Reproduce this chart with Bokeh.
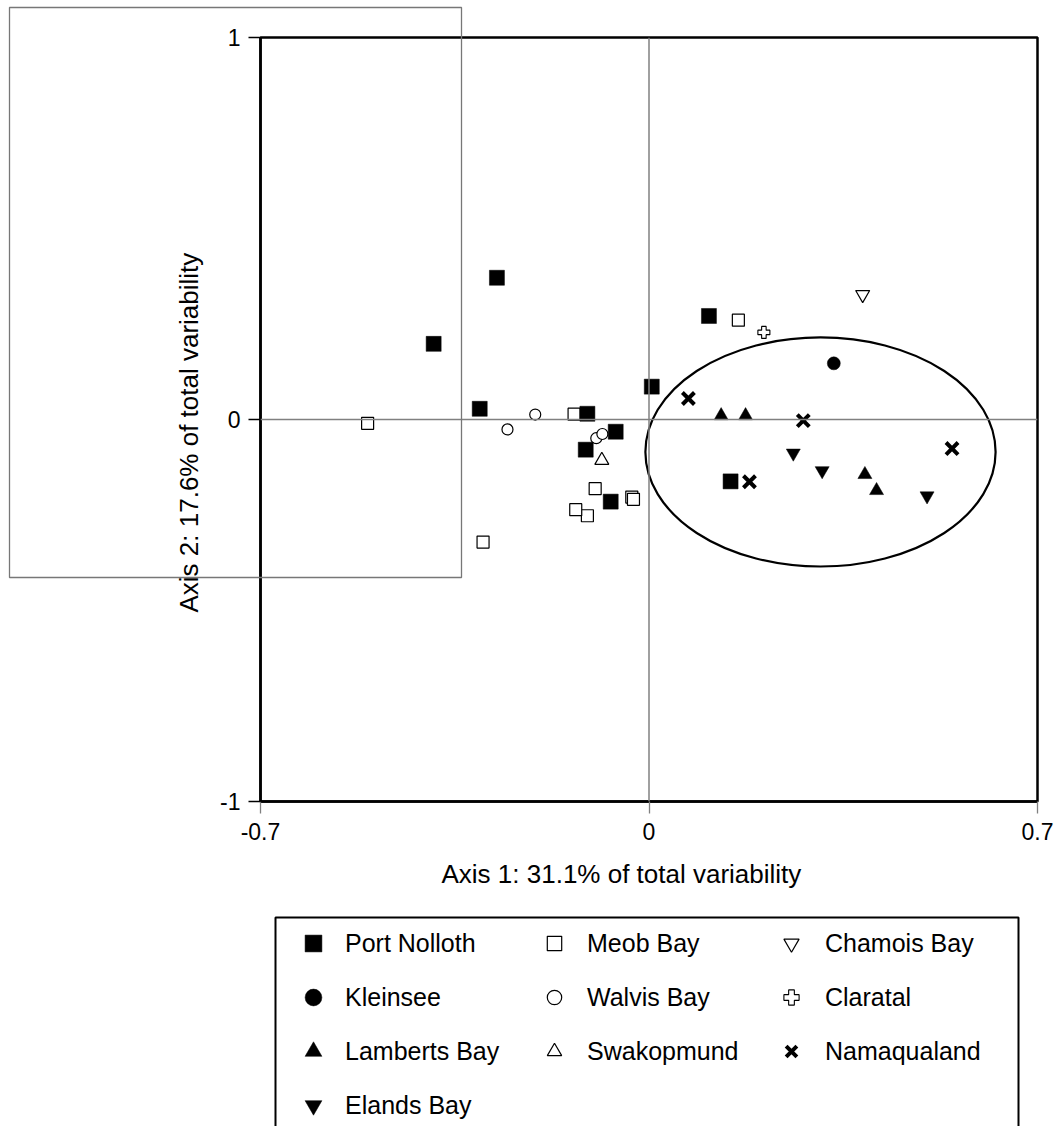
from bokeh.plotting import figure
from bokeh.models import Range1d, FixedTicker, Span, Legend, LegendItem, Title
from bokeh.embed import file_html
from bokeh.resources import INLINE

NAN = float("nan")

# Ordination scores per site (Axis 1, Axis 2)
port_nolloth_x = [-0.388, -0.274, -0.305, -0.111, -0.060, -0.114, -0.069, 0.005, 0.108, 0.147]
port_nolloth_y = [0.198, 0.371, 0.028, 0.015, -0.032, -0.079, -0.215, 0.086, 0.271, -0.162]

kleinsee_x = [0.333]
kleinsee_y = [0.147]

lamberts_bay_x = [0.130, 0.174, 0.389, 0.410]
lamberts_bay_y = [0.010, 0.010, -0.144, -0.186]

elands_bay_x = [0.260, 0.312, 0.501]
elands_bay_y = [-0.088, -0.134, -0.200]

meob_bay_x = [-0.507, -0.135, -0.111, -0.132, -0.097, -0.031, -0.028, -0.299, 0.161]
meob_bay_y = [-0.010, 0.014, -0.252, -0.236, -0.181, -0.203, -0.209, -0.321, 0.260]

walvis_bay_x = [-0.205, -0.255, -0.095, -0.084]
walvis_bay_y = [0.013, -0.026, -0.049, -0.038]

swakopmund_x = [-0.085]
swakopmund_y = [-0.107]

chamois_bay_x = [0.385]
chamois_bay_y = [0.327]

claratal_x = [0.207]
claratal_y = [0.228]

namaqualand_x = [0.071, 0.278, 0.546, 0.181]
namaqualand_y = [0.055, -0.003, -0.076, -0.163]

# Group ellipse (centre, full width, full height) in axis units
group_ellipse_x = [0.309]
group_ellipse_y = [-0.085]
group_ellipse_w = [0.631]
group_ellipse_h = [0.600]

x_ticks = [-0.7, 0, 0.7]
x_tick_labels = ["-0.7", "0", "0.7"]
y_ticks = [-1, 0, 1]
y_tick_labels = ["-1", "0", "1"]

x_title = "Axis 1: 31.1% of total variability"
y_title = "Axis 2: 17.6% of total variability"

FONT = "Liberation Sans"
W, H = 1057, 1126

# Marker style for each site: (marker, plot size, fill, line width)
styles = {
    "Port Nolloth": ("square", 15, "black", 0.5),
    "Kleinsee": ("circle", 13, "black", 0.5),
    "Lamberts Bay": ("triangle", 14, "black", 0.5),
    "Elands Bay": ("inverted_triangle", 14, "black", 0.5),
    "Meob Bay": ("square", 12, "white", 1.2),
    "Walvis Bay": ("circle", 11, "white", 1.2),
    "Swakopmund": ("triangle", 14, "white", 1.2),
    "Chamois Bay": ("inverted_triangle", 14, "white", 1.2),
    "Claratal": ("plus", 12, "white", 1.1),
    "Namaqualand": ("x", 17, None, 4.0),
}

# ---------------------------------------------------------------- main plot
p = figure(
    width=W, height=H,
    x_range=Range1d(-0.7, 0.7), y_range=Range1d(-1, 1),
    output_backend="svg", toolbar_location=None,
    min_border_left=260, min_border_right=20,
    min_border_top=37, min_border_bottom=325,
)
p.grid.visible = False
p.outline_line_color = "black"
p.outline_line_width = 2.5
p.outline_line_alpha = 1.0
p.background_fill_color = "white"
p.border_fill_color = "white"

for ax, ticks, labels in ((p.xaxis[0], x_ticks, x_tick_labels), (p.yaxis[0], y_ticks, y_tick_labels)):
    ax.ticker = FixedTicker(ticks=ticks)
    ax.major_label_overrides = {t: l for t, l in zip(ticks, labels)}
    ax.minor_tick_line_color = None
    ax.major_tick_in = 0
    ax.major_tick_out = 12
    ax.major_tick_line_width = 1.3
    ax.axis_line_color = "black"
    ax.axis_line_width = 2.5
    ax.major_label_text_font = FONT
    ax.major_label_text_font_size = "23px"
    ax.major_label_text_color = "black"

p.xaxis.major_tick_line_color = "#808080"
p.yaxis.major_tick_line_color = "black"
p.xaxis.major_label_standoff = 9
p.yaxis.major_label_standoff = 8

# Axis titles
p.add_layout(Title(text=x_title, align="left", offset=181, standoff=29,
                   text_font=FONT, text_font_size="26px", text_font_style="normal",
                   text_color="black"), "below")
p.add_layout(Title(text=y_title, align="left", offset=189, standoff=27,
                   text_font=FONT, text_font_size="26px", text_font_style="normal",
                   text_color="black"), "left")

# Zero reference lines
p.add_layout(Span(location=0, dimension="height", line_color="#808080", line_width=1.5))
p.add_layout(Span(location=0, dimension="width", line_color="#808080", line_width=1.5))

# Ellipse around the southern group
p.ellipse(x=group_ellipse_x, y=group_ellipse_y, width=group_ellipse_w, height=group_ellipse_h,
          fill_color=None, line_color="black", line_width=2.2)

def pts(name, xs, ys):
    marker, size, fill, lw = styles[name]
    p.scatter(x=xs, y=ys, marker=marker, size=size, fill_color=fill,
              line_color="black", line_width=lw)

pts("Meob Bay", meob_bay_x, meob_bay_y)
pts("Walvis Bay", walvis_bay_x, walvis_bay_y)
pts("Swakopmund", swakopmund_x, swakopmund_y)
pts("Chamois Bay", chamois_bay_x, chamois_bay_y)
pts("Claratal", claratal_x, claratal_y)
pts("Port Nolloth", port_nolloth_x, port_nolloth_y)
pts("Kleinsee", kleinsee_x, kleinsee_y)
pts("Lamberts Bay", lamberts_bay_x, lamberts_bay_y)
pts("Elands Bay", elands_bay_x, elands_bay_y)
pts("Namaqualand", namaqualand_x, namaqualand_y)

# ------------------------------------------- page overlay: key and panel frame
o = figure(
    width=W, height=H,
    x_range=Range1d(0, W), y_range=Range1d(H, 0),
    x_axis_type=None, y_axis_type=None,
    output_backend="svg", toolbar_location=None, min_border=0,
)
o.grid.visible = False
o.outline_line_color = None
o.background_fill_color = None
o.border_fill_color = None
o.styles = {"position": "absolute", "left": "0px", "top": "0px"}

# grey panel outline and the key's frame
o.quad(left=[9], right=[461], top=[7], bottom=[577],
       fill_color=None, line_color="#777777", line_width=1.3)
o.quad(left=[275], right=[1018], top=[917], bottom=[1140],
       fill_color=None, line_color="black", line_width=2)

def key_entry(name):
    marker, size, fill, lw = styles[name]
    r = o.scatter(x=[NAN], y=[NAN], marker=marker, size=size, fill_color=fill,
                  line_color="black", line_width=lw)
    return LegendItem(label=name, renderers=[r])

def make_key(names, loc, glyph, spacing, standoff):
    lg = Legend(
        items=[key_entry(n) for n in names],
        location=loc, orientation="vertical",
        glyph_width=glyph, glyph_height=glyph, label_height=glyph,
        spacing=spacing, padding=0, margin=0, label_standoff=standoff,
        label_text_font=FONT, label_text_font_size="25px", label_text_color="black",
        border_line_alpha=0, background_fill_alpha=0,
    )
    o.add_layout(lg, "center")

make_key(["Port Nolloth", "Kleinsee", "Lamberts Bay", "Elands Bay"], (292, 0), 42, 12, 11)
make_key(["Meob Bay", "Walvis Bay", "Swakopmund"], (536, 57), 36, 18, 15)
make_key(["Chamois Bay", "Claratal", "Namaqualand"], (772, 56), 38, 16, 15)

open("out.html", "w").write(file_html([p, o], INLINE))
